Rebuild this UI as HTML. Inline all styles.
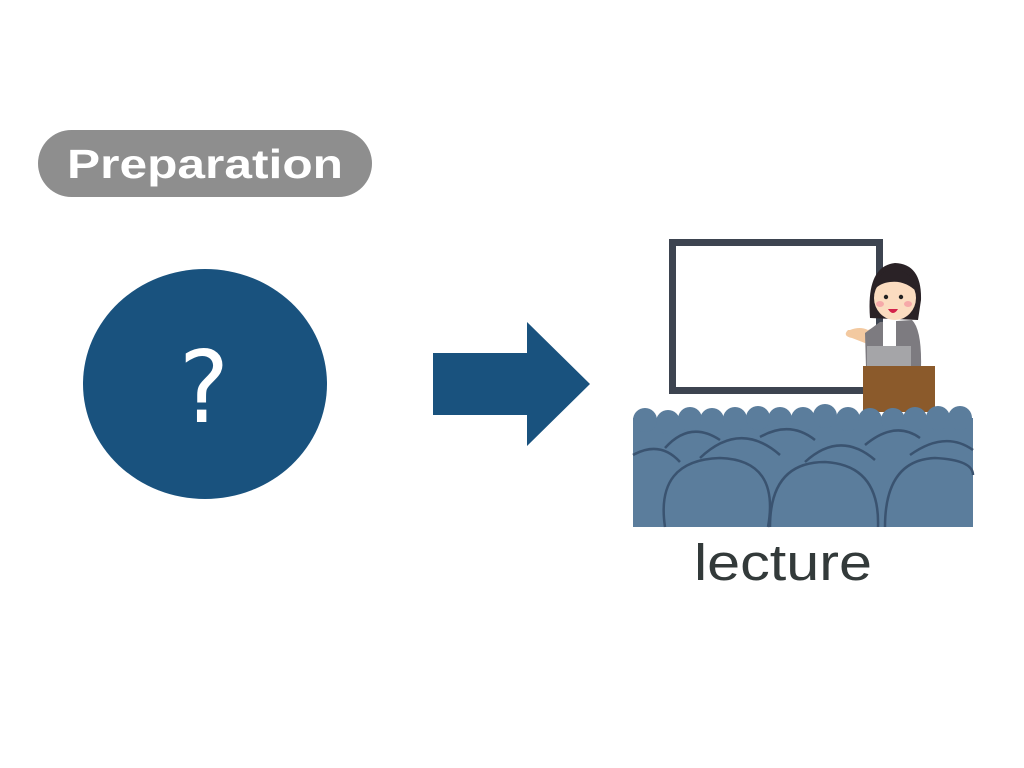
<!DOCTYPE html>
<html><head><meta charset="utf-8"><style>
html,body{margin:0;padding:0;background:#fff;}
svg{display:block;}
</style></head><body>
<svg width="1024" height="768" viewBox="0 0 1024 768" xmlns="http://www.w3.org/2000/svg">
<rect width="1024" height="768" fill="#fff"/>
<!-- pill -->
<rect x="38" y="130" width="334" height="67" rx="33.5" fill="#8e8e8e"/>
<text x="205" y="178" text-anchor="middle" font-family="Liberation Sans, sans-serif" font-weight="bold" font-size="41" fill="#fff" textLength="276" lengthAdjust="spacingAndGlyphs">Preparation</text>
<!-- circle -->
<ellipse cx="205" cy="384" rx="122" ry="115" fill="#19527e"/>
<text x="204" y="422" text-anchor="middle" font-family="DejaVu Sans, sans-serif" font-weight="normal" font-size="100" fill="#fff" textLength="50" lengthAdjust="spacingAndGlyphs">?</text>
<!-- arrow -->
<polygon points="433,353 527,353 527,322 590,384 527,446 527,415 433,415" fill="#19527e"/>
<!-- board -->
<rect x="672.5" y="242.5" width="207" height="148" fill="#fff" stroke="#3d4450" stroke-width="7"/>
<!-- person -->
<path d="M870 318 Q866 266 895 263 Q922 264 921 300 L918 320 Z" fill="#2a2226"/>
<path d="M850 330 Q860 326 868 330 L880 325 L870 345 L852 338 Q842 336 848 330 Z" fill="#f3c9a0"/>
<path d="M865 333 L880 322 L912 320 Q922 330 921 368 L866 368 Z" fill="#7d7b80"/>
<rect x="883" y="320" width="13" height="28" fill="#fff"/>
<ellipse cx="895" cy="298" rx="21" ry="22" fill="#fbdcc0"/>
<path d="M874 290 Q878 268 896 270 Q914 272 917 292 Q905 280 890 282 Q880 283 874 290Z" fill="#2a2226"/>
<circle cx="886" cy="297" r="2.2" fill="#222"/><circle cx="901" cy="297" r="2.2" fill="#222"/>
<ellipse cx="880" cy="304" rx="4" ry="3" fill="#f6a9a9"/><ellipse cx="908" cy="304" rx="4" ry="3" fill="#f6a9a9"/>
<path d="M888 309 Q893 317 898 309 Z" fill="#d3224a"/>
<rect x="867" y="346" width="44" height="22" fill="#a5a5a8"/>
<rect x="863" y="366" width="72" height="46" fill="#8b5a2b"/>
<!-- audience -->
<g>
<rect x="633" y="418" width="340" height="109" fill="#5b7d9c"/>
<g fill="#5b7d9c">
<circle cx="645" cy="420" r="12"/><circle cx="668" cy="422" r="12"/><circle cx="690" cy="419" r="12"/><circle cx="712" cy="420" r="12"/><circle cx="735" cy="419" r="12"/><circle cx="758" cy="418" r="12"/><circle cx="780" cy="419" r="12"/><circle cx="803" cy="419" r="12"/><circle cx="825" cy="416" r="12"/><circle cx="848" cy="419" r="12"/><circle cx="870" cy="420" r="12"/><circle cx="893" cy="420" r="12"/><circle cx="915" cy="419" r="12"/><circle cx="938" cy="418" r="12"/><circle cx="960" cy="418" r="12"/>
</g>
<g fill="none" stroke="#3a5370" stroke-width="2.5">
<path d="M633 455 Q660 440 680 462"/>
<path d="M665 448 Q690 420 720 440"/>
<path d="M700 458 Q740 420 780 455"/>
<path d="M760 437 Q790 420 815 440"/>
<path d="M805 462 Q840 430 875 460"/>
<path d="M865 445 Q895 420 920 438"/>
<path d="M910 455 Q945 430 973 450"/>
<path d="M665 527 Q655 460 720 458 Q780 460 768 527"/>
<path d="M770 527 Q770 462 825 462 Q880 465 878 527"/>
<path d="M885 527 Q885 460 935 458 Q973 460 973 475"/>
</g>
</g>
<text x="694" y="580" font-family="Liberation Sans, sans-serif" font-size="51" fill="#333a3a" textLength="178" lengthAdjust="spacingAndGlyphs">lecture</text>
</svg>
</body></html>
